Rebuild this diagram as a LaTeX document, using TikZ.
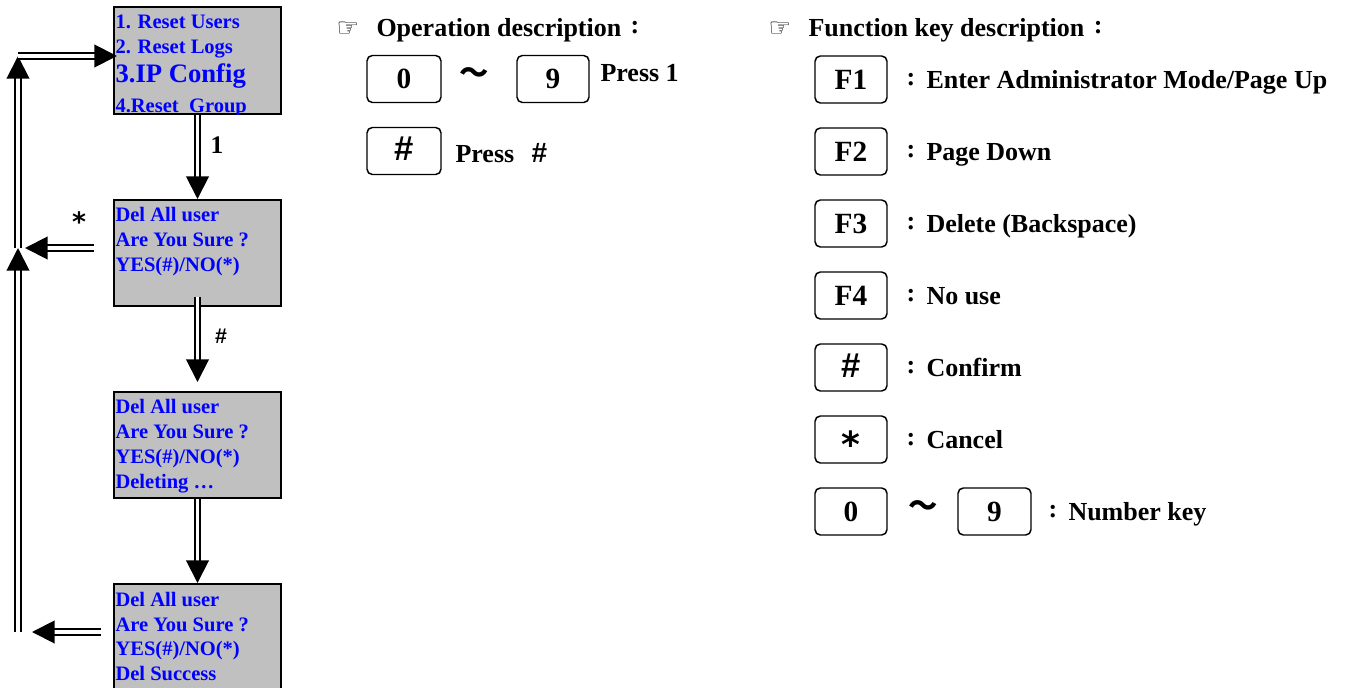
\documentclass[tikz,border=0pt]{standalone}
\usepackage{fontspec}
\setmainfont{Liberation Serif}
\newfontfamily\dingfont{DejaVu Sans}
\newfontfamily\hashfont{Liberation Sans}
\newfontfamily\cjkfont{Noto Sans CJK SC}
\usetikzlibrary{arrows.meta}

\definecolor{lcdgray}{RGB}{192,192,192}
\definecolor{lcdblue}{RGB}{0,0,255}

\newcommand{\keycolon}{\raisebox{2.25pt}{:}}
\newcommand{\pointer}{\makebox[30pt][l]{\dingfont\bfseries\fontsize{19}{19}\selectfont ☞}}

\tikzset{every picture/.style={line width=0.75pt}}
\tikzset{
  lcd/.style={draw, line width=1.5pt, fill=lcdgray, minimum width=125.25pt, inner sep=0pt},
  lcdtxt/.style={anchor=base west, inner sep=0pt, text=lcdblue, font=\bfseries\fontsize{15.4}{18}\selectfont},
  keycap/.style={draw, line width=1.1pt, rounded corners=4pt, minimum width=54pt, minimum height=35.25pt,
    inner sep=0pt, text height=15pt, text depth=0pt, font=\bfseries\fontsize{22}{22}\selectfont},
  wave/.style={inner sep=0pt, font=\cjkfont\bfseries\fontsize{22}{22}\selectfont},
  desc/.style={anchor=base west, inner sep=0pt, font=\bfseries\fontsize{19.5}{22}\selectfont},
  dbl/.style={double, double distance=2.8pt, line width=1.5pt},
  dblarrow/.style={dbl, -{Triangle[length=17pt,width=17pt]}}
}

\begin{document}
\begin{tikzpicture}[x=0.75pt,y=0.75pt,yscale=-1,xscale=1]
\useasboundingbox (0,0) rectangle (1352,688);

% LCD screens
\node [lcd, minimum height=80.25pt] (menu) at (197.5,60.5) {};
\node [lcd, minimum height=79.5pt] (ask) at (197.5,253) {};
\node [lcd, minimum height=79.5pt] (deleting) at (197.5,445) {};
\node [lcd, minimum height=90pt] (success) at (197.5,644) {};

\node [lcdtxt] (menuA) at (115,29) {1. Reset Users};
\node [lcdtxt] (menuB) at (115,54) {2. Reset Logs};
\node [lcdtxt, font=\bfseries\fontsize{20}{24}\selectfont] (menuC) at (115,83) {3.IP Config};
\begin{scope}
\clip (menu.south west) rectangle (menu.north east);
\node [lcdtxt] (menuD) at (115,113) {4.Reset\ \ Group};
\end{scope}

\node [lcdtxt] (askA) at (115,221) {Del All user};
\node [lcdtxt] (askB) at (115,246) {Are You Sure ?};
\node [lcdtxt] (askC) at (115,271) {YES(\#)/NO(*)};

\node [lcdtxt] (delA) at (115,413) {Del All user};
\node [lcdtxt] (delB) at (115,438) {Are You Sure ?};
\node [lcdtxt] (delC) at (115,463) {YES(\#)/NO(*)};
\node [lcdtxt] (delD) at (115,488) {Deleting …};

\node [lcdtxt] (okA) at (115,606) {Del All user};
\node [lcdtxt] (okB) at (115,631) {Are You Sure ?};
\node [lcdtxt] (okC) at (115,655) {YES(\#)/NO(*)};
\node [lcdtxt] (okD) at (115,680) {Del Success};

% flow
\coordinate (turn) at (18,56);
\coordinate (join) at (18,248);
\coordinate (foot) at (18,632);

\draw [dblarrow] (menu) -- (ask);
\draw [dblarrow, shorten <=-7.5pt, shorten >=6.75pt] (ask) -- (deleting);
\draw [dblarrow] (deleting) -- (success);
\draw [dblarrow, shorten <=14.25pt, shorten >=5.25pt] (ask.west |- join) -- (join);
\draw [dblarrow, shorten <=9pt, shorten >=10.5pt] (success.west |- foot) -- (foot);
\draw [dblarrow] (foot) -- (join);
\draw [dblarrow] (join) -- (turn);
\draw [dblarrow, shorten >=-3pt] (turn) -- (menu.west |- turn);

\node [font=\bfseries\fontsize{19}{19}\selectfont] (lblOne) at (217,145) {1};
\node [font=\hashfont\bfseries\fontsize{16}{16}\selectfont] (lblHash) at (221,336) {\#};
\node [font=\dingfont\bfseries\fontsize{20}{20}\selectfont] (lblStar) at (79,222) {*};

% operation description
\node [desc] (opHead) at (336,37) {\pointer Operation description\hspace{7pt}\keycolon};
\node [keycap, minimum width=55.5pt] (opZero) at (404,79) {0};
\node [wave] (opTilde) at (474.5,76) {～};
\node [keycap] (opNine) at (553,79) {9};
\node [desc] (opPressA) at (600,82) {Press 1};
\node [keycap, minimum width=55.5pt, font=\hashfont\bfseries\fontsize{26}{26}\selectfont] (opHash) at (404,151) {\#};
\node [desc] (opPressB) at (455,162) {Press\hspace{13pt}{\hashfont\fontsize{21}{21}\selectfont\#}};

% function key description
\node [desc] (fnHead) at (768,37) {\pointer Function key description\hspace{7pt}\keycolon};

\node [keycap] (fnF1) at (851,79.5) {F1};
\node [keycap] (fnF2) at (851,151.5) {F2};
\node [keycap] (fnF3) at (851,223.5) {F3};
\node [keycap] (fnF4) at (851,295.5) {F4};
\node [keycap, font=\hashfont\bfseries\fontsize{26}{26}\selectfont] (fnHash) at (851,367.5) {\#};
\node [keycap, font=\dingfont\bfseries\fontsize{27}{27}\selectfont] (fnStar) at (851,439.5) {\raisebox{-6pt}{*}};
\node [keycap] (fnZero) at (851,511.5) {0};
\node [wave] (fnTilde) at (923,509) {～};
\node [keycap, minimum width=54.75pt] (fnNine) at (994.5,511.5) {9};

\node [desc] (fnDescA) at (906,88.5) {\keycolon\hspace{8.5pt}Enter Administrator Mode/Page Up};
\node [desc] (fnDescB) at (906,160.5) {\keycolon\hspace{8.5pt}Page Down};
\node [desc] (fnDescC) at (906,232.5) {\keycolon\hspace{8.5pt}Delete (Backspace)};
\node [desc] (fnDescD) at (906,304.5) {\keycolon\hspace{8.5pt}No use};
\node [desc] (fnDescE) at (906,376.5) {\keycolon\hspace{8.5pt}Confirm};
\node [desc] (fnDescF) at (906,448.5) {\keycolon\hspace{8.5pt}Cancel};
\node [desc] (fnDescG) at (1048,520.5) {\keycolon\hspace{8.5pt}Number key};

\end{tikzpicture}
\end{document}
